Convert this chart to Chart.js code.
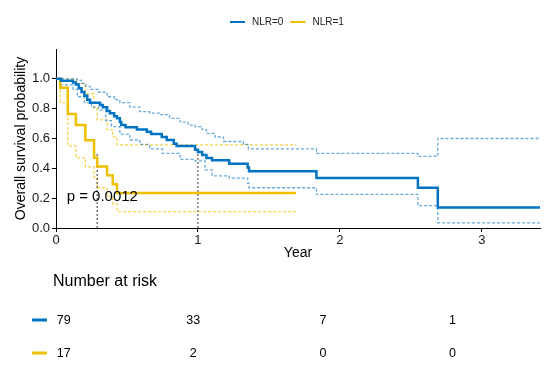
<!DOCTYPE html>
<html>
<head>
<meta charset="utf-8">
<script src="https://cdn.jsdelivr.net/npm/chart.js@4"></script>
<style>
  html, body { margin: 0; padding: 0; background: #fff; }
</style>
</head>
<body>
<canvas id="km" width="550" height="371"></canvas>
<script>
/* ---------- data ---------- */
const groups = ['NLR=0', 'NLR=1'];

// NLR=0 Kaplan-Meier estimate
const nlr0Time = [0, 0.035, 0.12, 0.14, 0.16, 0.18, 0.20, 0.22, 0.24, 0.31, 0.33, 0.36, 0.38, 0.41, 0.43, 0.45, 0.46, 0.49, 0.57, 0.64, 0.67, 0.745, 0.78, 0.83, 0.85, 0.98, 1.00, 1.03, 1.06, 1.10, 1.22, 1.35, 1.36, 1.835, 2.55, 2.69, 3.41];
const nlr0Surv = [1, 0.987, 0.975, 0.962, 0.937, 0.911, 0.886, 0.86, 0.84, 0.825, 0.81, 0.785, 0.77, 0.75, 0.735, 0.71, 0.69, 0.675, 0.66, 0.645, 0.63, 0.61, 0.59, 0.565, 0.55, 0.525, 0.51, 0.49, 0.47, 0.455, 0.43, 0.405, 0.38, 0.335, 0.27, 0.137, 0.137];
const nlr0UpTime = [0, 0.12, 0.15, 0.18, 0.21, 0.24, 0.30, 0.36, 0.41, 0.45, 0.52, 0.59, 0.66, 0.73, 0.80, 0.875, 0.93, 0.98, 1.03, 1.06, 1.12, 1.18, 1.32, 1.355, 1.835, 2.55, 2.69, 3.41];
const nlr0Upper  = [1, 1, 0.99, 0.97, 0.95, 0.93, 0.91, 0.88, 0.86, 0.84, 0.81, 0.78, 0.77, 0.76, 0.735, 0.71, 0.69, 0.68, 0.66, 0.635, 0.61, 0.58, 0.56, 0.53, 0.50, 0.48, 0.60, 0.60];
const nlr0LoTime = [0, 0.035, 0.12, 0.15, 0.20, 0.25, 0.30, 0.35, 0.39, 0.45, 0.52, 0.59, 0.66, 0.75, 0.875, 0.98, 1.05, 1.10, 1.22, 1.35, 1.36, 1.835, 2.55, 2.69, 3.41];
const nlr0Lower  = [1, 0.96, 0.93, 0.88, 0.84, 0.81, 0.79, 0.72, 0.68, 0.63, 0.59, 0.56, 0.53, 0.50, 0.46, 0.45, 0.39, 0.35, 0.335, 0.30, 0.27, 0.225, 0.15, 0.035, 0.035];

// NLR=1 Kaplan-Meier estimate
const nlr1Time  = [0, 0.03, 0.083, 0.14, 0.207, 0.268, 0.29, 0.36, 0.40, 0.43, 1.69];
const nlr1Surv  = [1, 0.941, 0.765, 0.69, 0.588, 0.471, 0.412, 0.353, 0.294, 0.235, 0.235];
const nlr1Upper = [1, 1, 1, 0.97, 0.90, 0.80, 0.725, 0.66, 0.61, 0.557, 0.557];
const nlr1Lower = [1, 0.84, 0.55, 0.47, 0.41, 0.34, 0.27, 0.21, 0.16, 0.11, 0.11];

// median survival per group
const medianTime = [1.0, 0.29];
const medianSurv = 0.5;

// number at risk table
const riskTimes = [0, 1, 2, 3];
const riskNlr0 = [79, 33, 7, 1];
const riskNlr1 = [17, 2, 0, 0];

const yTicks = [0, 0.2, 0.4, 0.6, 0.8, 1.0];
const xTicks = [0, 1, 2, 3];
const pText = 'p = 0.0012';

/* ---------- styles ---------- */
const colors = ['#0073C2', '#EFC000'];
const ciColors = ['rgba(0,115,194,0.6)', 'rgba(239,192,0,0.7)'];
const FONT = '"Liberation Sans", Arial, sans-serif';
Chart.defaults.font.family = FONT;

const pts = (t, s) => t.map((x, i) => ({ x, y: s[i] }));

function stepSet(data, color, width, dash, order) {
  return {
    data, borderColor: color, backgroundColor: color, borderWidth: width,
    borderDash: dash, stepped: true, pointRadius: 0, fill: false, order
  };
}

const datasets = [
  stepSet(pts(nlr0Time, nlr0Surv), colors[0], 2.5, [], 1),
  stepSet(pts(nlr1Time, nlr1Surv), colors[1], 2.5, [], 1),
  stepSet(pts(nlr0UpTime, nlr0Upper), ciColors[0], 1.3, [3, 2], 3),
  stepSet(pts(nlr0LoTime, nlr0Lower), ciColors[0], 1.3, [3, 2], 3),
  stepSet(pts(nlr1Time, nlr1Upper), ciColors[1], 1.3, [3, 2], 3),
  stepSet(pts(nlr1Time, nlr1Lower), ciColors[1], 1.3, [3, 2], 3),
];
medianTime.forEach(t => {
  datasets.push({
    data: [{ x: t, y: 0 }, { x: t, y: medianSurv }],
    borderColor: '#333', borderWidth: 1, borderDash: [2, 2],
    pointRadius: 0, fill: false, order: 2
  });
});

/* ---------- extra drawing: legend, p-value, risk table ---------- */
const extras = {
  id: 'extras',
  afterDraw(chart) {
    const { ctx, scales } = chart;
    const x = scales.x, y = scales.y, xr = scales.xr;
    ctx.save();

    // legend
    ctx.font = '10px ' + FONT;
    ctx.textBaseline = 'middle';
    ctx.textAlign = 'left';
    let lx = 230;
    groups.forEach((g, i) => {
      ctx.fillStyle = colors[i];
      ctx.fillRect(lx, 21, 15, 2);
      ctx.fillStyle = '#222';
      ctx.fillText(g, lx + 22, 22);
      lx += 22 + ctx.measureText(g).width + 7;
    });

    // p-value
    ctx.font = '15px ' + FONT;
    ctx.fillStyle = '#000';
    ctx.fillText(pText, x.getPixelForValue(0.075), y.getPixelForValue(0.207));

    // risk table
    ctx.font = '16px ' + FONT;
    ctx.fillText('Number at risk', 53, 282);
    ctx.font = '12.5px ' + FONT;
    ctx.textAlign = 'center';
    [riskNlr0, riskNlr1].forEach((row, r) => {
      const ry = 320 + r * 33;
      ctx.fillStyle = colors[r];
      ctx.fillRect(32, ry - 1.5, 15, 3);
      ctx.fillStyle = '#000';
      row.forEach((n, i) => ctx.fillText(String(n), xr.getPixelForValue(riskTimes[i]), ry + 1));
    });
    ctx.restore();
  }
};

/* ---------- chart ---------- */
new Chart(document.getElementById('km'), {
  type: 'line',
  data: { datasets },
  options: {
    responsive: false,
    animation: false,
    layout: { padding: { top: 49, right: 10, bottom: 106, left: 0 } },
    plugins: { legend: { display: false }, tooltip: { enabled: false } },
    scales: {
      x: {
        type: 'linear', min: 0, max: 3.41,
        afterBuildTicks: s => { s.ticks = xTicks.map(v => ({ value: v })); },
        afterFit: s => { s.height = 37; },
        ticks: { color: '#1a1a1a', font: { size: 13 }, padding: 1, callback: v => String(v) },
        grid: { drawOnChartArea: false, drawTicks: true, tickLength: 4, color: '#000' },
        border: { display: true, color: '#000', width: 1 },
        title: { display: true, text: 'Year', color: '#000', font: { size: 14 }, padding: { top: 0, bottom: 3 } }
      },
      xr: {
        type: 'linear', axis: 'x', position: 'bottom', display: false, min: -0.06, max: 3.676
      },
      y: {
        type: 'linear', min: 0, max: 1.2,
        afterBuildTicks: s => { s.ticks = yTicks.map(v => ({ value: v })); },
        afterFit: s => { s.width = 56; },
        ticks: { color: '#1a1a1a', font: { size: 13 }, padding: 2, callback: v => v.toFixed(1) },
        grid: { drawOnChartArea: false, drawTicks: true, tickLength: 4, color: '#000' },
        border: { display: true, color: '#000', width: 1 },
        title: { display: true, text: 'Overall survival probability', color: '#000', font: { size: 14 }, padding: { top: 13, bottom: 0 } }
      }
    }
  },
  plugins: [extras]
});
</script>
</body>
</html>
